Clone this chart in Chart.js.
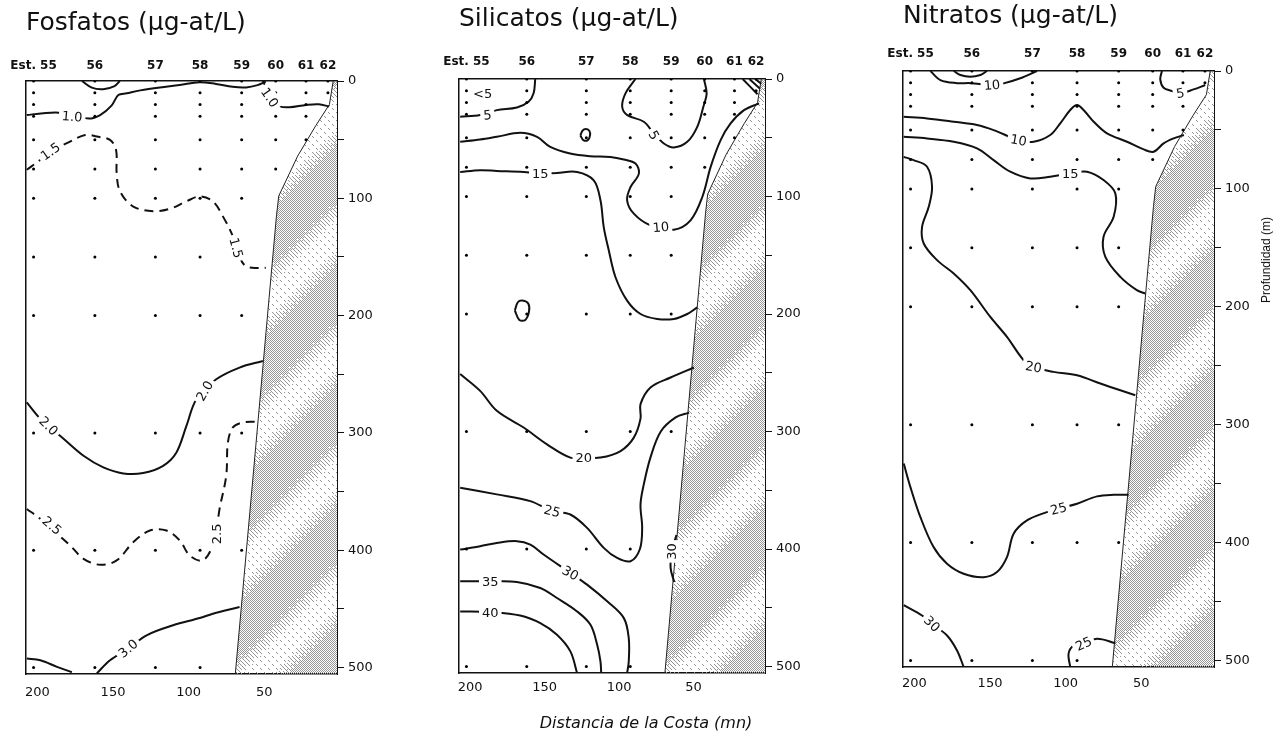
<!DOCTYPE html>
<html>
<head>
<meta charset="utf-8">
<script src="https://cdn.jsdelivr.net/npm/chart.js@4.4.1/dist/chart.umd.min.js"></script>
<style>
  html, body { margin: 0; padding: 0; background: #fff; }
  #wrap { position: relative; width: 1288px; height: 738px; overflow: hidden; }
  canvas { position: absolute; top: 0; }
  #xtitle { position: absolute; left: 446px; width: 400px; top: 713px; text-align: center;
            font: italic 16px "DejaVu Sans", sans-serif; color: #111; line-height: 20px; }
  #ytitle { position: absolute; left: 1266px; top: 260px; white-space: nowrap;
            transform: translate(-50%, -50%) rotate(-90deg);
            font: 12px "Liberation Sans", Arial, sans-serif; color: #111; }
</style>
</head>
<body>
<div id="wrap">
  <canvas id="fos" width="400" height="738" style="left:0px"></canvas>
  <canvas id="sil" width="400" height="738" style="left:430px"></canvas>
  <canvas id="nit" width="428" height="738" style="left:860px"></canvas>
  <div id="xtitle">Distancia de la Costa (mn)</div>
  <div id="ytitle">Profundidad (m)</div>
</div>
<script>
  'use strict';

  // stations and sampling grid (distance in mn, depth in m)
  var STATIONS = ['Est. 55', '56', '57', '58', '59', '60', '61', '62'];
  var STATION_DIST = [202.5, 162, 122, 92.5, 65, 42.5, 22.5, 8];
  var STATION_MAX_DEPTH = [500, 500, 500, 500, 400, 75, 50, 10];
  var SAMPLE_DEPTHS = [0, 10, 20, 30, 50, 75, 100, 150, 200, 300, 400, 500];
  var DIST_TICKS = [200, 150, 100, 50];
  var DEPTH_TICKS = [0, 50, 100, 150, 200, 250, 300, 350, 400, 450, 500];
  var X_MIN = 2, X_MAX = 207.5, Y_MAX = 505.5;

  // sea floor profile [distance, depth]
  var BOTTOM_PROFILE = [[4.5, 0], [7, 20], [16, 38], [28, 64], [40.5, 98], [42, 115], [69.2, 505.5]];

  // Fosfatos isolines [distance, depth]
  var FOS_C10A = [[207, 29], [196, 27.5], [186, 27], [176, 29], [166, 32], [158.5, 29], [151, 21], [146.5, 12],
    [141, 10.5], [132, 8], [119, 5.5], [106, 3.5], [93, 1], [82, 2.5], [71, 5], [62, 5.5], [54.5, 3.5], [49, 0.5]];
  var FOS_C10B = [[170.5, 0], [164, 5.7], [156.5, 7], [149, 4.3], [145.5, 0]];
  var FOS_C10C = [[51, 0], [46, 12], [40, 21.3], [33.5, 22.4], [22.5, 20.4], [14, 19.8], [7.2, 21.8]];
  var FOS_C15 = [[207, 75.7], [198, 67.2], [191.4, 60], [180.5, 53], [168.4, 46], [160.7, 47.4], [152, 50.2],
    [148, 58.7], [147.6, 78.5], [145.4, 94], [136.6, 107], [123.5, 111], [112.5, 109], [101.5, 102.6],
    [92.7, 98.4], [84, 102.6], [77.4, 115.4], [70.8, 132.4], [67.5, 146.5], [62, 158], [49, 159.3]];
  var FOS_C20 = [[207, 274], [198, 288], [182.7, 305], [169.5, 319.5], [156.4, 329.4], [143.2, 334.5],
    [130.1, 334.2], [116.9, 328], [108.1, 316.6], [101.5, 294], [94.9, 271.3], [81.8, 254.3], [66.4, 244.3], [51, 238.7]];
  var FOS_C25 = [[207, 364.8], [198, 373.3], [178.3, 396], [169.5, 407.3], [158.5, 412.4], [147.6, 408.7],
    [136.6, 393.1], [125.6, 383.2], [114.7, 383.2], [105.9, 391.7], [99.3, 404.5], [90.6, 408.7], [84, 396],
    [81.8, 384.6], [79.6, 364.8], [75.2, 336.5], [74.1, 308.1], [70.8, 295.3], [64.3, 291.1], [54.4, 290.5]];
  var FOS_C30A = [[66.4, 448.4], [84, 454.1], [92.7, 457.8], [110.3, 464], [127.8, 472.5], [139.9, 483.8],
    [152, 493.8], [160.7, 505]];
  var FOS_C30B = [[207, 492.3], [198, 493.8], [187, 499.4], [177.2, 504]];
  var FOS_LABEL_TEXT = ['1.0', '1.0', '1.5', '1.5', '2.0', '2.0', '2.5', '2.5', '3.0'];
  var FOS_LABEL_DIST = [177, 46.5, 191.4, 68.6, 192.6, 89.5, 190.3, 81.8, 140];
  var FOS_LABEL_DEPTH = [30.3, 14, 60, 142.3, 294, 264.2, 379, 386, 483.8];
  var FOS_LABEL_ANGLE = [5, 55, -35, 75, 45, -60, 40, -90, -40];

  // Silicatos isolines
  var SIL_C5A = [[206.7, 32.1], [193.3, 30.7], [182.1, 26.5], [168.6, 24.2], [160.8, 19.3], [157.4, 12.2], [156.3, 0]];
  var SIL_C5B = [[89, 0], [95.7, 12.2], [97.9, 23.6], [94.5, 30.7], [83.4, 36.4], [76.6, 46.4], [69.9, 54.9],
    [63.2, 58.3], [54.2, 53.5], [47.5, 40.7], [43.4, 23.6], [41.2, 12.2], [43, 0]];
  var SIL_C5C = [[17, 0], [7, 13]];
  var SIL_C5D = [[12.5, 0], [5.5, 8]];
  var SIL_C5E = [[8.5, 0], [4.5, 4]];
  var SIL_LOOP1 = [[126, 48], [124.5, 44], [122.5, 42.5], [120, 44], [119.5, 48], [121, 52], [124, 52], [126, 48]];
  var SIL_LOOP2 = [[170, 197], [168, 190], [165, 188.5], [161, 191], [160.5, 198], [163, 205], [167, 205], [170, 197]];
  var SIL_C10 = [[206.7, 53.5], [193.3, 51.5], [182.1, 49.2], [166.4, 45.8], [155.1, 49.2], [146.2, 57.8],
    [132.9, 63.4], [119.4, 65.7], [105.8, 66.3], [96.8, 68.5], [89, 71.9], [86.7, 80.5], [92.3, 91.9],
    [94.6, 103.2], [90.1, 114.6], [78.9, 124.6], [63.2, 128.2], [52, 120.3], [44.1, 100.4], [38.5, 74.8],
    [31.8, 52], [25.1, 37.8], [16.1, 26.5], [6, 20.7]];
  var SIL_C15 = [[206.7, 79.1], [193.3, 77.6], [182.1, 78.2], [164.1, 79.1], [152.9, 80.5], [141.7, 79.9],
    [128.2, 79.1], [117, 86.2], [112.5, 103.2], [110.3, 126], [106.9, 145.9], [102.4, 168.7], [94.6, 188.6],
    [85.6, 200], [74.4, 204.2], [63.2, 204.2], [54.2, 200], [47.5, 194.3]];
  var SIL_C20 = [[206.7, 251.1], [193.3, 265.4], [182.1, 282.4], [164.1, 296.6], [148.4, 310.9], [132.7, 322.2],
    [123.7, 322.2], [112.5, 322.2], [99, 316.6], [90.1, 305.2], [85.6, 289], [85.6, 276.7], [78.9, 262.5],
    [65.4, 254], [49.7, 245.5]];
  var SIL_C25 = [[206.7, 347.8], [182.1, 353.5], [159.6, 359.2], [145, 367.7], [132.7, 370.6], [121.5, 382],
    [110.3, 399], [101.3, 407.6], [92.3, 410.4], [86, 400], [84.5, 382], [85.6, 362], [83.4, 345], [78.9, 322],
    [72, 300], [62, 288], [53, 283.9]];
  var SIL_C30A = [[206.7, 400.4], [193.3, 397.6], [182.1, 394.8], [168.6, 393.3], [159.6, 396.2], [150.7, 404.7],
    [132.7, 420.4], [121.5, 430.3], [108, 444.5], [96.8, 458.8], [93.5, 475.8], [93.5, 495.7], [94.6, 505.5]];
  var SIL_C30B = [[61.5, 388], [64.5, 402], [65.4, 416], [63, 428]];
  var SIL_C35 = [[206.7, 427.5], [186.5, 427.5], [168.6, 428], [152.9, 433.2], [141.7, 441.7], [128.2, 453.1],
    [119.2, 464.5], [114.7, 481.5], [112.5, 495.7], [112, 505.5]];
  var SIL_C40 = [[206.7, 453.1], [186.5, 453.7], [166.4, 456.5], [152.9, 463], [141.7, 472.9], [132.7, 487.1],
    [128.2, 505.5]];
  var SIL_LABEL_TEXT = ['<5', '5', '5', '15', '10', '20', '25', '30', '30', '35', '40'];
  var SIL_LABEL_DIST = [191.6, 188.4, 76.6, 152.9, 72, 123.7, 145, 132.7, 64.5, 186.5, 186.5];
  var SIL_LABEL_DEPTH = [12.2, 30.7, 47.8, 80.5, 126, 322.2, 367.7, 420.4, 402, 427.5, 453.7];
  var SIL_LABEL_ANGLE = [0, -5, 60, 0, -5, 0, 15, 30, -90, 0, 0];

  // Nitratos isolines
  var NIT_C10A = [[189.4, 0], [182.8, 7.7], [171.8, 10.3], [163, 10.3], [148.7, 11.9], [141, 10.5], [130, 6.2], [119, 0]];
  var NIT_C10L = [[174, 0], [169.6, 3.4], [163, 4.8], [156.4, 3.4], [152, 0]];
  var NIT_C5 = [[36.4, 0], [37.5, 7.1], [35.3, 14.2], [29.8, 17], [24.3, 18.9], [15.5, 15.6], [7.8, 11.9]];
  var NIT_C10B = [[207.1, 38.8], [191.6, 40.2], [174, 43], [158.6, 45.8], [147.6, 50.1], [131.1, 58.6], [121.2, 60],
    [110.2, 54.3], [103.6, 44.4], [97, 33.1], [92.5, 28.9], [88.2, 33.1], [81.5, 43], [72.7, 52.9], [59.5, 60],
    [48.5, 66.5], [41.9, 68.5], [35.3, 61.4], [28.7, 57.2], [21.9, 54.3]];
  var NIT_C15 = [[207.1, 55.8], [191.6, 57.2], [174, 60], [158.6, 65.6], [147.6, 75.6], [136.6, 85.4], [123.4, 91.1],
    [110.2, 89.7], [97, 86.8], [85.9, 85.4], [75, 92.5], [67.2, 103.8], [68.3, 123.7], [75, 140.6], [73.8, 157.6],
    [63.9, 174.6], [53, 185.9], [47.5, 188.7]];
  var NIT_C20 = [[207.1, 72.8], [200.5, 75.6], [191.6, 81.2], [188.3, 98.2], [190.5, 115.2], [194.9, 132.2],
    [193.8, 146.3], [185, 160.4], [174, 171.7], [163, 185.9], [149.8, 208.6], [138.8, 225.5], [127.8, 245.3],
    [121.2, 251], [108, 255.2], [92.5, 258.1], [77.1, 265.1], [63.9, 270.8], [54, 275]];
  var NIT_C25A = [[207, 333], [202.6, 352.9], [196, 378.4], [187.3, 403.8], [178.4, 417.9], [167.4, 426.4],
    [154.2, 429.3], [145.4, 425], [138.8, 412.3], [134.4, 392.5], [125.6, 381.2], [112.4, 374.1], [104.7, 371.2],
    [92.5, 367], [79.3, 360.8], [68.3, 359.4], [58.4, 359.4]];
  var NIT_C30 = [[207, 453], [194.9, 461.8], [188.3, 468.9], [178.4, 478.8], [171.8, 491.5], [167.4, 505.5]];
  var NIT_C25B = [[97, 505.5], [98.1, 494.4], [94.8, 487.3], [88.2, 485.9], [79.3, 481.6], [67.2, 485.3]];
  var NIT_LABEL_TEXT = ['10', '5', '10', '15', '20', '25', '30', '25'];
  var NIT_LABEL_DIST = [148.7, 24.3, 131.1, 97, 121.2, 104.7, 188.3, 88.2];
  var NIT_LABEL_DEPTH = [11.9, 18.9, 58.6, 86.8, 251, 371.2, 468.9, 485.9];
  var NIT_LABEL_ANGLE = [-5, -10, 10, 0, 10, -15, 45, -25];

  Chart.defaults.font.family = '"DejaVu Sans", sans-serif';
  Chart.defaults.color = '#111';
  Chart.defaults.animation = false;

  function toXY(pairs) {
    return pairs.map(function (p) { return { x: p[0], y: p[1] }; });
  }

  function samplePoints() {
    var pts = [];
    STATION_DIST.forEach(function (d, i) {
      SAMPLE_DEPTHS.forEach(function (z) {
        if (z <= STATION_MAX_DEPTH[i]) pts.push({ x: d, y: z });
      });
    });
    return pts;
  }

  // checkerboard stipple thinned on a coarse ordered grid, with soft diagonal bands
  function makeStipple() {
    var bayer = [[0, 8, 2, 10], [12, 4, 14, 6], [3, 11, 1, 9], [15, 7, 13, 5]];
    var c = document.createElement('canvas');
    c.width = 120; c.height = 120;
    var g = c.getContext('2d');
    g.fillStyle = '#959595';
    for (var j = 0; j < 120; j++) {
      for (var i = 0; i < 120; i++) {
        if ((i + j) % 2 !== 0) continue;
        var tone = 0.5 + 0.5 * Math.sin(2 * Math.PI * (i + j) / 120);
        var keep = 0.15 + 0.85 * Math.min(1, Math.max(0, (tone - 0.1) / 0.55));
        if ((bayer[(j >> 1) % 4][(i >> 1) % 4] + 0.5) / 16 < keep) g.fillRect(i, j, 1, 1);
      }
    }
    return g.createPattern(c, 'repeat');
  }
  var stipple = makeStipple();

  function labelPlugin(text, dist, depth, angle) {
    return {
      id: 'contourLabels',
      afterDatasetsDraw: function (chart) {
        var ctx = chart.ctx, xs = chart.scales.x, ys = chart.scales.y;
        ctx.save();
        ctx.font = '13px "DejaVu Sans", sans-serif';
        ctx.textAlign = 'center';
        ctx.textBaseline = 'middle';
        text.forEach(function (t, i) {
          ctx.save();
          ctx.translate(xs.getPixelForValue(dist[i]), ys.getPixelForValue(depth[i]));
          ctx.rotate(angle[i] * Math.PI / 180);
          var w = ctx.measureText(t).width + 6;
          ctx.fillStyle = '#fff';
          ctx.fillRect(-w / 2, -8, w, 16);
          ctx.fillStyle = '#111';
          ctx.fillText(t, 0, 1);
          ctx.restore();
        });
        ctx.restore();
      }
    };
  }

  function buildPanel(id, title, lines, dashed, labels, lay) {
    var datasets = [{
      data: samplePoints(), showLine: false, pointRadius: 1.5,
      pointBackgroundColor: '#000', pointBorderWidth: 0
    }];
    lines.forEach(function (l, i) {
      datasets.push({
        data: toXY(l), showLine: true, pointRadius: 0, borderColor: '#111',
        borderWidth: 2, tension: 0.35, borderDash: dashed[i] ? [9, 6] : [], fill: false
      });
    });
    datasets.push({
      data: toXY(BOTTOM_PROFILE), showLine: true, pointRadius: 0,
      borderColor: '#222', borderWidth: 1, tension: 0, fill: false
    });
    datasets.push({
      data: toXY(BOTTOM_PROFILE.concat([[X_MIN, Y_MAX], [X_MIN, 0]])), showLine: true, pointRadius: 0,
      borderWidth: 0, tension: 0, backgroundColor: stipple, fill: 'shape'
    });

    return new Chart(document.getElementById(id), {
      type: 'scatter',
      data: { datasets: datasets },
      plugins: [labelPlugin(labels[0], labels[1], labels[2], labels[3])],
      options: {
        responsive: false,
        animation: false,
        layout: { padding: { left: lay.pl, right: lay.pr, top: 0, bottom: lay.pb } },
        plugins: {
          legend: { display: false },
          tooltip: { enabled: false },
          title: {
            display: true, text: title, align: 'start', color: '#111',
            font: { size: 25, weight: 'normal' },
            padding: { top: lay.tt, bottom: lay.tb }
          }
        },
        scales: {
          x: {
            type: 'linear', position: 'bottom', reverse: true, min: X_MIN, max: X_MAX,
            afterBuildTicks: function (s) { s.ticks = DIST_TICKS.map(function (v) { return { value: v }; }); },
            afterFit: function (s) { s.height = 40; },
            grid: { display: false, drawTicks: false },
            border: { display: true, color: '#111', width: 1.5 },
            ticks: { padding: lay.xp, font: { size: 13 }, color: '#111', maxRotation: 0, autoSkip: false }
          },
          xt: {
            type: 'linear', position: 'top', reverse: true, min: X_MIN, max: X_MAX,
            afterBuildTicks: function (s) { s.ticks = STATION_DIST.map(function (v) { return { value: v }; }); },
            afterFit: function (s) { s.height = 30; },
            grid: { display: false, drawTicks: false },
            border: { display: true, color: '#111', width: 1.5 },
            ticks: {
              padding: lay.sp, font: { size: 12, weight: 'bold' }, color: '#111', maxRotation: 0, autoSkip: false,
              callback: function (v, i) { return STATIONS[i]; }
            }
          },
          y: {
            type: 'linear', position: 'right', reverse: true, min: 0, max: Y_MAX,
            afterBuildTicks: function (s) { s.ticks = DEPTH_TICKS.map(function (v) { return { value: v }; }); },
            afterFit: function (s) { s.width = 45; },
            grid: { display: true, drawOnChartArea: false, drawTicks: true, tickLength: 7, color: '#111', lineWidth: 1 },
            border: { display: true, color: '#111', width: 1 },
            ticks: {
              padding: 4, font: { size: 13 }, color: '#111', autoSkip: false,
              callback: function (v) { return v % 100 === 0 ? v : ''; }
            }
          },
          yl: {
            type: 'linear', position: 'left', reverse: true, min: 0, max: Y_MAX,
            afterFit: function (s) { s.width = 0; },
            grid: { display: false, drawTicks: false },
            border: { display: true, color: '#111', width: 1.5 },
            ticks: { display: false }
          }
        }
      }
    });
  }

  buildPanel('fos', 'Fosfatos (µg-at/L)',
    [FOS_C10A, FOS_C10B, FOS_C10C, FOS_C15, FOS_C20, FOS_C25, FOS_C30A, FOS_C30B],
    [false, false, false, true, false, true, false, false],
    [FOS_LABEL_TEXT, FOS_LABEL_DIST, FOS_LABEL_DEPTH, FOS_LABEL_ANGLE],
    { pl: 26, pr: 18, pb: 24, tt: 8, tb: 13, sp: 7.8, xp: 11 });

  buildPanel('sil', 'Silicatos (µg-at/L)',
    [SIL_C5A, SIL_C5B, SIL_C5C, SIL_C5D, SIL_C5E, SIL_LOOP1, SIL_LOOP2, SIL_C10, SIL_C15, SIL_C20, SIL_C25,
      SIL_C30A, SIL_C30B, SIL_C35, SIL_C40],
    [],
    [SIL_LABEL_TEXT, SIL_LABEL_DIST, SIL_LABEL_DEPTH, SIL_LABEL_ANGLE],
    { pl: 29, pr: 20, pb: 25, tt: 4.5, tb: 14.5, sp: 9.8, xp: 6.7 });

  buildPanel('nit', 'Nitratos (µg-at/L)',
    [NIT_C10A, NIT_C10L, NIT_C5, NIT_C10B, NIT_C15, NIT_C20, NIT_C25A, NIT_C30, NIT_C25B],
    [],
    [NIT_LABEL_TEXT, NIT_LABEL_DIST, NIT_LABEL_DEPTH, NIT_LABEL_ANGLE],
    { pl: 43, pr: 29, pb: 31, tt: 1, tb: 10, sp: 10.3, xp: 9.2 });
</script>
</body>
</html>
